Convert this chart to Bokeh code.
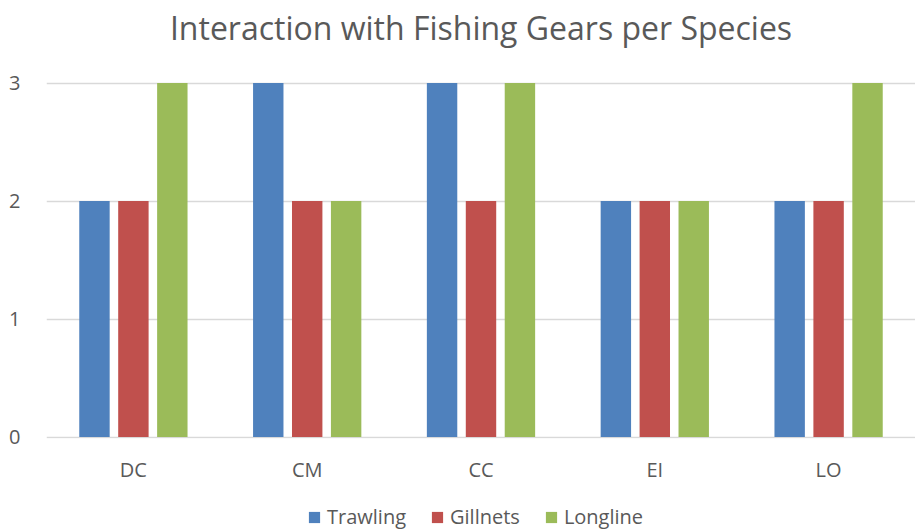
from bokeh.plotting import figure
from bokeh.layouts import column
from bokeh.models import ColumnDataSource, Range1d, FactorRange, Legend, LegendItem
from bokeh.core.properties import value
from bokeh.transform import dodge
from bokeh.embed import file_html
from bokeh.resources import INLINE

# Number of interactions per species and fishing gear
species = ["DC", "CM", "CC", "EI", "LO"]
trawling = [2, 3, 3, 2, 2]
gillnets = [2, 2, 2, 2, 2]
longline = [3, 2, 3, 2, 3]

series_names = ["Trawling", "Gillnets", "Longline"]
series_colors = ["#4F81BD", "#C0504D", "#9BBB59"]

TITLE = "Interaction with Fishing Gears per Species"
FONT = "Open Sans"
TEXT_COLOR = "#595959"
GRID_COLOR = "#D9D9D9"

source = ColumnDataSource(dict(species=species, Trawling=trawling,
                               Gillnets=gillnets, Longline=longline))

# main chart: the frame reaches the top edge so the heading sits inside it
p = figure(width=915, height=500, x_range=FactorRange(*species),
           y_range=Range1d(-0.012, 3.70), output_backend="svg",
           toolbar_location=None, tools="")
p.min_border_left = 46
p.min_border_right = 0
p.min_border_top = 0
p.min_border_bottom = 62
p.outline_line_color = None
p.background_fill_color = "white"
p.border_fill_color = "white"

offsets = [-0.224, 0.0, 0.224]
renderers = []
for name, color, off in zip(series_names, series_colors, offsets):
    r = p.vbar(x=dodge("species", off, range=p.x_range), top=name, width=0.175,
               source=source, fill_color=color, line_color=None)
    renderers.append(r)

# heading, centred over the middle category
p.text(x=[species[2]], y=[3.47], text=[TITLE], text_font=value(FONT),
       text_font_size=value("32px"), text_color=TEXT_COLOR,
       text_align="center", text_baseline="middle")

# y axis: labels only, gridlines at every unit
p.yaxis.ticker = [0, 1, 2, 3]
p.yaxis.axis_line_color = None
p.yaxis.major_tick_line_color = None
p.yaxis.minor_tick_line_color = None
p.yaxis.major_label_text_font = FONT
p.yaxis.major_label_text_font_size = "20px"
p.yaxis.major_label_text_color = TEXT_COLOR
p.yaxis.major_label_standoff = 20

p.xaxis.axis_line_color = None
p.xaxis.major_tick_line_color = None
p.xaxis.major_label_text_font = FONT
p.xaxis.major_label_text_font_size = "20px"
p.xaxis.major_label_text_color = TEXT_COLOR
p.xaxis.major_label_standoff = 11

p.xgrid.grid_line_color = None
p.ygrid.grid_line_color = GRID_COLOR
p.ygrid.grid_line_width = 1.5

# legend strip underneath; its key renderers are flat (zero-height) bars
# that only carry the series colours for the legend swatches
leg = figure(width=915, height=31, x_range=Range1d(0, 1), y_range=Range1d(0, 1),
             output_backend="svg", toolbar_location=None, tools="",
             x_axis_location=None, y_axis_location=None)
leg.min_border = 0
leg.outline_line_color = None
leg.grid.visible = False
keys = [leg.vbar(x=0.5, top=0, bottom=0, width=0.1, fill_color=c, line_color=None)
        for c in series_colors]

legend = Legend(items=[LegendItem(label=n, renderers=[k]) for n, k in zip(series_names, keys)],
                orientation="horizontal", location=(261, 1))
legend.label_text_font = FONT
legend.label_text_font_size = "20px"
legend.label_text_color = TEXT_COLOR
legend.glyph_width = 14
legend.glyph_height = 14
legend.label_standoff = 6
legend.spacing = 24
legend.padding = 0
legend.margin = 0
legend.border_line_color = None
legend.background_fill_alpha = 0
leg.add_layout(legend)

open("out.html", "w").write(file_html(column(p, leg, spacing=0), INLINE))
